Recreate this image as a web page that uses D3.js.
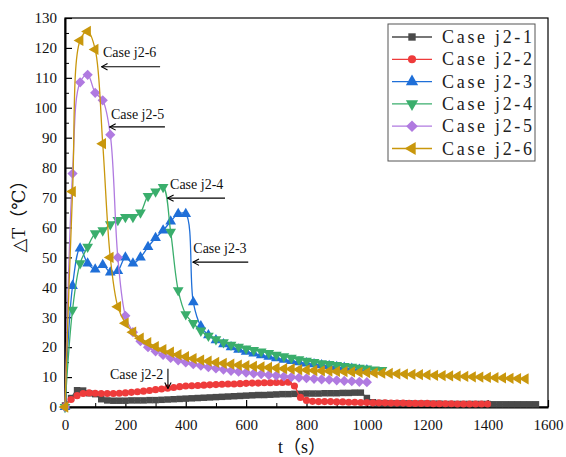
<!DOCTYPE html>
<html>
<head>
<meta charset="utf-8">
<script src="https://cdn.jsdelivr.net/npm/d3@7"></script>
<style>
  body { margin: 0; background: #fff; }
  svg { display: block; }
</style>
</head>
<body>
<div id="chart"></div>
<script>
const width = 566
const height = 457
const margin = ({top: 18, right: 18, bottom: 50, left: 65})

// sampling times (s)
const time25 = [0,25,50,75,100,125,150,175,200,225,250,275,300,325,350,375,400,425,450,475,
  500,525,550,575,600,625,650,675,700,725,750,775,800,825,850,875,900,925,950,975,
  1000,1025,1050,1075,1100,1125,1150,1175,1200,1225,1250,1275,1300,1325,1350,1375,1400,1425,1450,1475,
  1500,1525]
const time20 = [0,20,40,60,80,100,120,140,160,180,200,220,240,260,280,300,320,340,360,380,
  400,420,440,460,480,500,520,540,560,580,600,620,640,660,680,700,720,740,760,780,
  800,820,840,860,880,900,920,940,960,980,1000,1020,1040,1060,1080,1100,1120,1140,1160,1180,
  1200,1220,1240,1260,1280,1300,1320,1340,1360,1380,1400,1420,1440,1460,1480,1500,1520,1540,1560]

const caseNames = ["Case j2-1", "Case j2-2", "Case j2-3", "Case j2-4", "Case j2-5", "Case j2-6"]

// temperature rise (°C)
const j2_1 = [0.5,3.0,5.6,5.5,4.6,4.3,2.6,2.2,2.1,2.1,
  2.1,2.2,2.2,2.2,2.3,2.3,2.4,2.5,2.6,2.7,
  2.8,2.9,3.0,3.1,3.2,3.3,3.4,3.5,3.6,3.7,
  3.8,3.9,4.0,4.0,4.1,4.2,4.3,4.3,4.4,4.4,
  4.5,4.5,4.5,4.6,4.6,4.6,4.7,4.7,4.8,4.8,
  3.0,1.6,1.3,1.3,1.2,1.2,1.2,1.2,1.1,1.1,
  1.1,1.1,1.1,1.0,1.0,1.0,1.0,1.0,1.0,1.0,
  1.0,0.9,0.9,0.9,0.9,0.9,0.9,0.9,0.9]
const j2_2 = [0.3,2.5,3.8,4.5,4.7,4.6,4.5,4.5,4.5,4.6,
  4.7,4.9,5.1,5.3,5.5,5.8,6.0,6.3,6.5,6.8,
  7.0,7.1,7.2,7.3,7.4,7.5,7.6,7.7,7.7,7.8,
  7.9,8.0,8.0,8.1,8.1,8.2,8.2,8.3,7.0,3.2,
  2.2,1.9,1.8,1.8,1.8,1.7,1.7,1.6,1.6,1.5,
  1.5,1.4,1.4,1.4,1.3,1.3,1.3,1.2,1.2,1.2,
  1.2,1.1,1.1,1.1,1.1,1.0,1.0,1.0,1.0,1.0,
  1.0]
const j2_3 = [0,40.5,53,48,46,47.5,45,45.5,50,48,
  50,53.5,56.5,59,62,64.5,64.5,35,27,24,
  22.3,21,20,19.2,18.5,17.9,17.3,16.8,16.3,15.8,
  15.4,15,14.6,14.3,14,13.7,13.4,13.1,12.8,12.5,
  12.3]
const j2_4 = [0,32.5,48,53.5,58,59,61,62.5,63.5,63.5,
  65,70.5,72,73.5,58.5,39,31,28,25.5,23.8,
  22.6,21.6,20.8,20.1,19.5,19,18.5,18,17.4,16.9,
  16.4,15.9,15.4,15,14.6,14.3,14,13.7,13.4,13.1,
  12.8,12.5,12.3]
const j2_5 = [0,78,108.5,111,105,102.5,91,50,30.5,25,
  22,20,18.6,17.4,16.4,15.6,14.9,14.3,13.8,13.3,
  12.9,12.5,12.1,11.8,11.5,11.2,11,10.7,10.5,10.2,
  10,9.8,9.6,9.4,9.2,9.1,8.9,8.7,8.6,8.4,
  8.3]
const j2_6 = [0,72,122.5,125.5,119.5,88,50,33.5,28,25,
  23,21.5,20.2,19.2,18.3,17.5,16.8,16.2,15.7,15.3,
  14.9,14.6,14.3,14,13.8,13.6,13.4,13.2,13,12.8,
  12.7,12.5,12.4,12.2,12.1,12,11.9,11.8,11.7,11.6,
  11.5,11.4,11.3,11.2,11.1,11,10.9,10.8,10.7,10.6,
  10.5,10.4,10.3,10.2,10.1,10,9.9,9.8,9.7,9.6,
  9.5,9.4]

const xTicks = [0,200,400,600,800,1000,1200,1400,1600]
const xMinor = [100,300,500,700,900,1100,1300,1500]
const yTicks = [0,10,20,30,40,50,60,70,80,90,100,110,120,130]
const yMinor = [5,15,25,35,45,55,65,75,85,95,105,115,125]

const colors = ["#4a4a4a", "#ee3b3b", "#1f6fd8", "#3aae6c", "#b07ae0", "#c9970c"]

// arrows: text anchor and arrow tail/tip, in data units
const notes = [
  {label: "Case j2-6", at: [126, 116.8], tail: [315, 113.7], tip: [121, 113.7]},
  {label: "Case j2-5", at: [152, 96.3], tail: [331, 93.6], tip: [148, 93.6]},
  {label: "Case j2-4", at: [348, 72.9], tail: [530, 69.8], tip: [340, 69.8]},
  {label: "Case j2-3", at: [425, 51.5], tail: [607, 48.4], tip: [424, 48.4]},
  {label: "Case j2-2", at: [149, 9.4], tail: [341, 12.8], tip: [341, 6.2]}
]

const serif = "Liberation Serif, DejaVu Serif, serif"
const cjk = "Liberation Serif, DejaVu Serif, Noto Sans CJK SC, serif"

// marker shape per case
const shapes = [
  {type: d3.symbolSquare, size: 42, rot: 0},
  {type: d3.symbolCircle, size: 40, rot: 0},
  {type: d3.symbolTriangle, size: 50, rot: 0},
  {type: d3.symbolTriangle, size: 50, rot: 180},
  {type: d3.symbolSquare, size: 52, rot: 45},
  {type: d3.symbolTriangle, size: 55, rot: -90}
]

const series = [j2_1, j2_2, j2_3, j2_4, j2_5, j2_6].map((vals, i) => {
  const times = (i < 2 ? time20 : time25)
  return {
    name: caseNames[i],
    color: colors[i],
    shape: shapes[i],
    points: vals.map((v, k) => ({t: times[k], v: v}))
  }
})

const x = d3.scaleLinear()
  .domain([0, 1600])
  .range([margin.left, width - margin.right])

const y = d3.scaleLinear()
  .domain([0, 130])
  .range([height - margin.bottom, margin.top])

const svg = d3.select("#chart")
  .append("svg")
  .attr("width", width)
  .attr("height", height)

svg.append("defs").append("marker")
  .attr("id", "arrow")
  .attr("markerUnits", "userSpaceOnUse")
  .attr("viewBox", "-1 -5 10 10")
  .attr("refX", 0)
  .attr("refY", 0)
  .attr("markerWidth", 10)
  .attr("markerHeight", 10)
  .attr("orient", "auto")
  .append("path")
  .attr("d", "M6,-3.2L0,0L6,3.2")
  .attr("fill", "none")
  .attr("stroke", "#000")
  .attr("stroke-width", 1.1)

// top / right frame
svg.append("rect")
  .attr("x", x(0))
  .attr("y", y(130))
  .attr("width", x(1600) - x(0))
  .attr("height", y(0) - y(130))
  .attr("fill", "none")
  .attr("stroke", "#000")
  .attr("stroke-width", 1.2)

// minor ticks
svg.append("g")
  .attr("transform", `translate(0,${y(0)})`)
  .call(d3.axisBottom(x).tickValues(xMinor).tickSize(-4).tickSizeOuter(0).tickFormat(""))
  .call(g => g.select(".domain").remove())
svg.append("g")
  .attr("transform", `translate(${x(0)},0)`)
  .call(d3.axisLeft(y).tickValues(yMinor).tickSize(-4).tickSizeOuter(0).tickFormat(""))
  .call(g => g.select(".domain").remove())

const styleAxis = g => g
  .call(g => g.select(".domain").attr("stroke-width", 2))
  .call(g => g.selectAll("line").attr("stroke-width", 1.2))
  .call(g => g.selectAll("text")
    .style("font-family", serif)
    .style("font-size", "15px")
    .attr("fill", "#111"))

svg.append("g")
  .attr("transform", `translate(0,${y(0)})`)
  .call(d3.axisBottom(x).tickValues(xTicks).tickFormat(d3.format("d"))
    .tickSize(-7).tickSizeOuter(0).tickPadding(12))
  .call(styleAxis)

svg.append("g")
  .attr("transform", `translate(${x(0)},0)`)
  .call(d3.axisLeft(y).tickValues(yTicks).tickFormat(d3.format("d"))
    .tickSize(-7).tickSizeOuter(0).tickPadding(8))
  .call(styleAxis)

// axis titles
svg.append("text")
  .attr("x", 302)
  .attr("y", 453)
  .attr("text-anchor", "middle")
  .style("font-family", cjk)
  .style("font-size", "18px")
  .attr("fill", "#111")
  .text("t（s）")

svg.append("text")
  .attr("transform", "translate(25,212) rotate(-90)")
  .attr("text-anchor", "middle")
  .style("font-family", cjk)
  .style("font-size", "18px")
  .attr("fill", "#111")
  .text("△T（℃）")

const line = d3.line()
  .x(d => x(d.t))
  .y(d => y(d.v))
  .curve(d3.curveCatmullRom.alpha(0.5))

const groups = svg.selectAll("g.case")
  .data(series)
  .join("g")
  .attr("class", "case")

groups.append("path")
  .attr("d", d => line(d.points))
  .attr("fill", "none")
  .attr("stroke", d => d.color)
  .attr("stroke-width", 1.3)

groups.each(function(s) {
  const sym = d3.symbol(s.shape.type, s.shape.size)
  d3.select(this).selectAll("path.mk")
    .data(s.points)
    .join("path")
    .attr("class", "mk")
    .attr("d", sym)
    .attr("transform", d => `translate(${x(d.t)},${y(d.v)}) rotate(${s.shape.rot})`)
    .attr("fill", s.color)
})

// annotations
const noteG = svg.append("g")
noteG.selectAll("text")
  .data(notes)
  .join("text")
  .attr("x", d => x(d.at[0]))
  .attr("y", d => y(d.at[1]))
  .style("font-family", serif)
  .style("font-size", "14px")
  .attr("fill", "#111")
  .text(d => d.label)
noteG.selectAll("line")
  .data(notes)
  .join("line")
  .attr("x1", d => x(d.tip[0]))
  .attr("y1", d => y(d.tip[1]))
  .attr("x2", d => x(d.tail[0]))
  .attr("y2", d => y(d.tail[1]))
  .attr("stroke", "#000")
  .attr("stroke-width", 1.1)
  .attr("marker-start", "url(#arrow)")

// legend
const legend = svg.append("g")
legend.append("rect")
  .attr("x", 388)
  .attr("y", 24)
  .attr("width", 147)
  .attr("height", 137)
  .attr("fill", "#fff")
  .attr("stroke", "#555")
  .attr("stroke-width", 1)

const item = legend.selectAll("g.item")
  .data(series)
  .join("g")
  .attr("class", "item")
  .attr("transform", (d, i) => `translate(0,${37 + i * 22.3})`)

item.append("line")
  .attr("x1", 392)
  .attr("x2", 432)
  .attr("stroke", d => d.color)
  .attr("stroke-width", 1.3)
item.append("path")
  .attr("d", d => d3.symbol(d.shape.type, d.shape.size * 1.3)())
  .attr("transform", d => `translate(412,0) rotate(${d.shape.rot})`)
  .attr("fill", d => d.color)
item.append("text")
  .attr("x", 442)
  .attr("y", 6)
  .style("font-family", serif)
  .style("font-size", "18px")
  .attr("textLength", 90)
  .attr("lengthAdjust", "spacing")
  .attr("fill", "#222")
  .text(d => d.name)
</script>
</body>
</html>
